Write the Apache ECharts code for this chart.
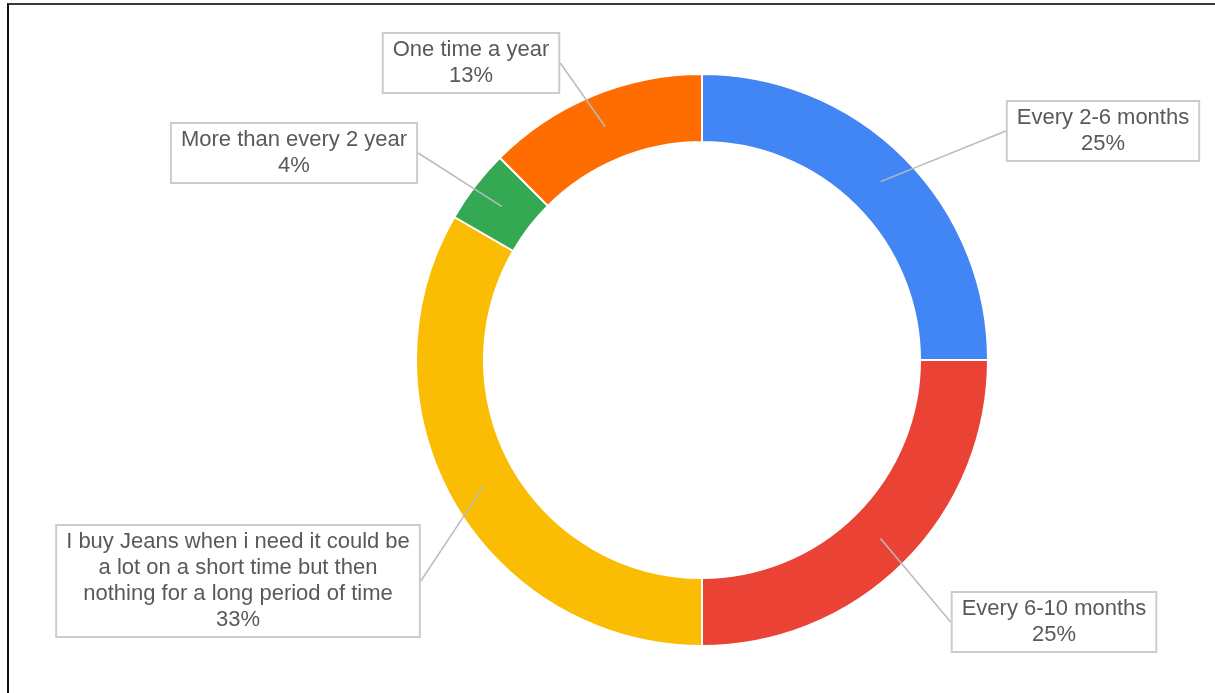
<!DOCTYPE html>
<html>
<head>
<meta charset="utf-8">
<script src="https://cdn.jsdelivr.net/npm/echarts@6/dist/echarts.min.js"></script>
<style>
  html, body { margin: 0; padding: 0; background: #fff; }
  #chart { width: 1215px; height: 693px; }
  #frame {
    position: absolute; left: 7px; top: 3px; right: 0; bottom: 0;
    border-top: 2px solid #3a3a3a; border-left: 2px solid #111;
    pointer-events: none;
  }
</style>
</head>
<body>
<div id="chart"></div>
<div id="frame"></div>
<script>
// answers, clockwise from 12 o'clock
const categories = [
  "Every 2-6 months",
  "Every 6-10 months",
  "I buy Jeans when i need it could be\na lot on a short time but then\nnothing for a long period of time",
  "More than every 2 year",
  "One time a year"
];
const counts = [6, 6, 8, 1, 3];
const colors = ["#4285f4", "#ea4335", "#fbbc04", "#34a853", "#ff6d01"];

// where google put the callout boxes (box centres, px)
const labelSpots = [
  [1103, 131],
  [1054, 622],
  [238, 581],
  [294, 153],
  [471, 63]
];

const total = counts.reduce((a, b) => a + b, 0);
const CENTER = [702, 360];
const R_OUT = 286, R_IN = 218;

// callout anchors: middle of the ring, middle of each slice
let run = 0;
const anchors = counts.map((c, i) => {
  const mid = run + c / 2;
  run += c;
  return { name: categories[i], value: [(R_IN + R_OUT) / 2 / R_OUT, mid] };
});

const chart = echarts.init(document.getElementById("chart"));

chart.setOption({
  animation: false,
  polar: { center: CENTER, radius: R_OUT },
  angleAxis: {
    type: "value", min: 0, max: total, startAngle: 90, clockwise: true, show: false
  },
  radiusAxis: { type: "value", min: 0, max: 1, show: false },
  series: [
    {
      type: "pie",
      center: CENTER,
      radius: [R_IN, R_OUT],
      startAngle: 90,
      clockwise: true,
      silent: true,
      label: { show: false },
      labelLine: { show: false },
      itemStyle: { borderColor: "#fff", borderWidth: 2 },
      data: categories.map((name, i) => ({
        name: name,
        value: counts[i],
        itemStyle: { color: colors[i] }
      }))
    },
    {
      // invisible points the callouts hang on
      type: "scatter",
      coordinateSystem: "polar",
      silent: true,
      symbol: "circle",
      symbolSize: 1,
      itemStyle: { color: "rgba(0,0,0,0)", opacity: 1 },
      label: {
        show: true,
        position: "right",
        formatter: function (p) {
          const pct = Math.round(counts[p.dataIndex] / total * 100);
          return p.name + "\n" + pct + "%";
        },
        fontFamily: "'Liberation Sans', Arial, sans-serif",
        fontSize: 22,
        lineHeight: 26,
        color: "#595959",
        align: "center",
        backgroundColor: "#fff",
        borderColor: "#cccccc",
        borderWidth: 2,
        padding: [3, 9, 3, 9]
      },
      labelLine: {
        show: true,
        length2: 0,
        lineStyle: { color: "#bbbbbb", width: 1.5, opacity: 1 }
      },
      labelLayout: function (params) {
        const p = labelSpots[params.dataIndex];
        return { x: p[0], y: p[1], align: "center", verticalAlign: "middle" };
      },
      data: anchors
    }
  ]
});
</script>
</body>
</html>
